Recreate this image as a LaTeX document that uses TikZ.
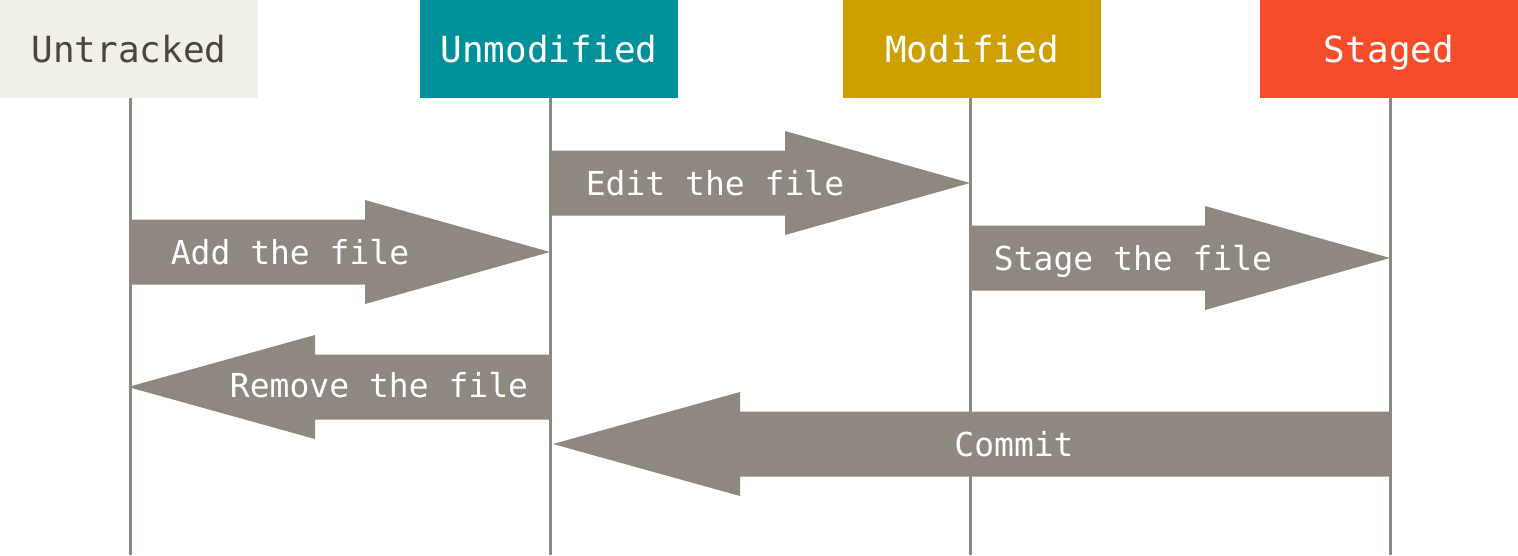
\documentclass[tikz,border=0pt]{standalone}
\usepackage{fontspec}
\setmonofont{DejaVu Sans Mono}
\usepackage{tikz}
\usetikzlibrary{positioning,calc}

\definecolor{untrackedbg}{RGB}{240,239,232}
\definecolor{untrackedfg}{RGB}{78,68,60}
\definecolor{unmodbg}{RGB}{0,144,154}
\definecolor{modbg}{RGB}{205,160,0}
\definecolor{stagedbg}{RGB}{245,77,41}
\definecolor{flowgray}{RGB}{142,136,128}

\tikzset{
    state/.style={minimum width=258pt, minimum height=98pt, inner sep=0pt,
        text height=27pt, text depth=0pt,
        font=\ttfamily\fontsize{36}{40}\selectfont, text=white},
    lifeline/.style={flowgray, line width=3pt},
    flow/.style={fill=flowgray},
    flowlabel/.style={font=\ttfamily\fontsize{33}{38}\selectfont, text=white, inner sep=0pt,
        text height=25pt, text depth=0pt}
}

% block arrow: tail #1, tip #2, signed head length #3
\newcommand{\flowarrow}[3]{
    \fill[flow] ($(#1)+(0,-32.5)$) -- ($(#2)+(-#3,-32.5)$) -- ($(#2)+(-#3,-52)$)
        -- (#2) -- ($(#2)+(-#3,52)$) -- ($(#2)+(-#3,32.5)$) -- ($(#1)+(0,32.5)$) -- cycle;
}

\begin{document}
\begin{tikzpicture}[x=1pt, y=-1pt]
    \useasboundingbox (0,0) rectangle (1518,555);

    % states
    \node[state, fill=untrackedbg, text=untrackedfg] (untracked) at (129,49) {Untracked};
    \node[state, fill=unmodbg] (unmodified) at (549,49) {Unmodified};
    \node[state, fill=modbg] (modified) at (972,49) {Modified};
    \node[state, fill=stagedbg] (staged) at (1389,49) {Staged};

    % lifelines
    \foreach \s/\x in {untracked/130, unmodified/550, modified/970, staged/1390} {
        \coordinate (\s top) at (\x,98);
        \coordinate (\s bot) at (\x,555);
        \draw[lifeline] (\s top) -- (\s bot);
    }

    % arrow ends on the lifelines
    \coordinate (edit a) at (550,183);   \coordinate (edit b) at (970,183);
    \coordinate (add a) at (130,252);    \coordinate (add b) at (550,252);
    \coordinate (stage a) at (970,258);  \coordinate (stage b) at (1390,258);
    \coordinate (rm a) at (550,387);     \coordinate (rm b) at (128,387);
    \coordinate (commit a) at (1390,444); \coordinate (commit b) at (553,444);

    \flowarrow{edit a}{edit b}{185}
    \flowarrow{add a}{add b}{185}
    \flowarrow{stage a}{stage b}{185}
    \flowarrow{rm a}{rm b}{-187}
    \flowarrow{commit a}{commit b}{-187}

    \node[flowlabel] (edit) at (715,183) {Edit the file};
    \node[flowlabel] (add) at (290,252) {Add the file};
    \node[flowlabel] (stage) at (1133,258) {Stage the file};
    \node[flowlabel] (remove) at (379,385) {Remove the file};
    \node[flowlabel] (commit) at (1014,444) {Commit};
\end{tikzpicture}
\end{document}
